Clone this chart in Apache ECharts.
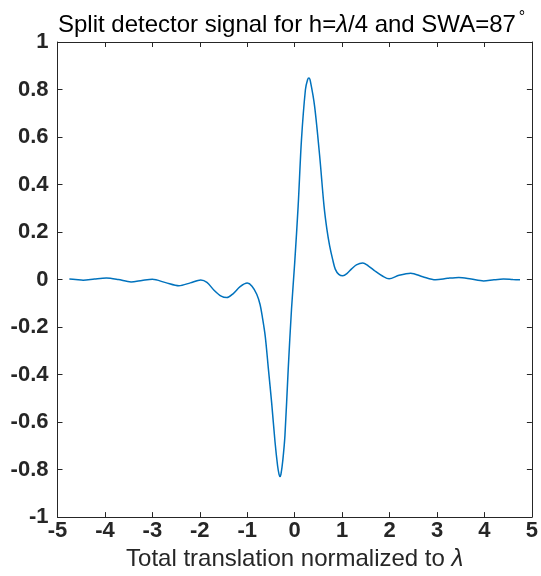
<!DOCTYPE html>
<html>
<head>
<meta charset="utf-8">
<script src="https://cdn.jsdelivr.net/npm/echarts@6/dist/echarts.min.js"></script>
<style>html,body{margin:0;padding:0;background:#fff}#c{width:541px;height:576px}</style>
</head>
<body>
<div id="c"></div>
<script>
const xValues = [-4.75,-4.62,-4.46,-4.22,-3.97,-3.72,-3.45,-3.22,-3.0,-2.72,-2.44,-2.2,-1.98,-1.85,-1.7,-1.55,-1.43,-1.3,-1.15,-1.0,-0.9,-0.8,-0.73,-0.68,-0.62,-0.555,-0.485,-0.415,-0.36,-0.33,-0.31,-0.29,-0.25,-0.205,-0.136,-0.067,0.0,0.073,0.143,0.226,0.27,0.3,0.33,0.42,0.527,0.618,0.68,0.737,0.8,0.855,0.93,1.015,1.1,1.2,1.3,1.434,1.55,1.7,1.85,1.99,2.2,2.446,2.7,2.97,3.22,3.46,3.72,3.98,4.2,4.4,4.6,4.75];
const yValues = [0.002,0.0,-0.003,0.002,0.006,0.0,-0.01,-0.004,0.001,-0.013,-0.026,-0.014,-0.002,-0.012,-0.045,-0.07,-0.076,-0.06,-0.03,-0.015,-0.028,-0.062,-0.105,-0.16,-0.24,-0.375,-0.52,-0.683,-0.785,-0.82,-0.829,-0.82,-0.76,-0.655,-0.375,-0.124,0.07,0.31,0.589,0.799,0.84,0.848,0.835,0.729,0.519,0.31,0.21,0.142,0.085,0.044,0.022,0.016,0.025,0.045,0.062,0.07,0.058,0.035,0.015,0.003,0.018,0.027,0.012,-0.001,0.005,0.009,0.002,-0.006,-0.001,0.002,0.0,-0.001];
const xTicks = [-5,-4,-3,-2,-1,0,1,2,3,4,5];
const yTicks = [-1,-0.8,-0.6,-0.4,-0.2,0,0.2,0.4,0.6,0.8,1];

const FONT = '"Liberation Sans", Arial, Helvetica, sans-serif';
const axisColor = '#262626';
const chart = echarts.init(document.getElementById('c'));
const data = xValues.map((x, i) => [x, yValues[i]]);

const baseAxis = {
  axisLine: { show: true, onZero: false, lineStyle: { color: axisColor, width: 1 } },
  axisTick: { show: true, inside: true, length: 5, lineStyle: { color: axisColor } },
  splitLine: { show: false }
};

chart.setOption({
  animation: false,
  backgroundColor: '#fff',
  title: {
    text: '{n|Split detector signal for h=}{l|λ}{n|/4 and SWA=87}{s|°}',
    left: 53,
    top: 5,
    textStyle: {
      fontWeight: 'normal',
      rich: {
        n: { fontFamily: FONT, fontSize: 24, fontWeight: 'normal', color: '#000', lineHeight: 28 },
        l: { fontFamily: FONT, fontSize: 24, fontWeight: 'normal', color: '#000', fontStyle: 'italic', lineHeight: 28 },
        s: { fontFamily: FONT, fontSize: 16, fontWeight: 'normal', color: '#000', padding: [0, 0, 15, 3] }
      }
    }
  },
  grid: { left: 57.5, right: 5.5, top: 42, bottom: 57, containLabel: false },
  xAxis: [
    Object.assign({}, baseAxis, {
      type: 'value', min: -5, max: 5, interval: 1, position: 'bottom',
      name: 'Total translation normalized to {l|λ}',
      nameLocation: 'middle', nameGap: 28,
      nameTextStyle: { fontFamily: FONT, fontSize: 24, color: axisColor,
        rich: { l: { fontFamily: FONT, fontSize: 24, color: axisColor, fontStyle: 'italic' } } },
      axisLabel: { margin: 3, fontFamily: FONT, fontSize: 22, fontWeight: 'bold', color: axisColor,
        formatter: v => xTicks.includes(v) ? String(v) : '' }
    }),
    Object.assign({}, baseAxis, {
      type: 'value', min: -5, max: 5, interval: 1, position: 'top',
      axisLabel: { show: false }
    })
  ],
  yAxis: [
    Object.assign({}, baseAxis, {
      type: 'value', min: -1, max: 1, interval: 0.2, position: 'left',
      axisLabel: { margin: 9, fontFamily: FONT, fontSize: 22, fontWeight: 'bold', color: axisColor,
        formatter: v => { const t = yTicks.find(k => Math.abs(k - v) < 1e-9); return t === undefined ? '' : String(t); } }
    }),
    Object.assign({}, baseAxis, {
      type: 'value', min: -1, max: 1, interval: 0.2, position: 'right',
      axisLabel: { show: false }
    })
  ],
  series: [{
    type: 'line',
    data: data,
    xAxisIndex: 0, yAxisIndex: 0,
    showSymbol: false,
    smooth: 0.3,
    lineStyle: { color: '#0072BD', width: 1.5 },
    itemStyle: { color: '#0072BD' }
  }]
});
</script>
</body>
</html>
